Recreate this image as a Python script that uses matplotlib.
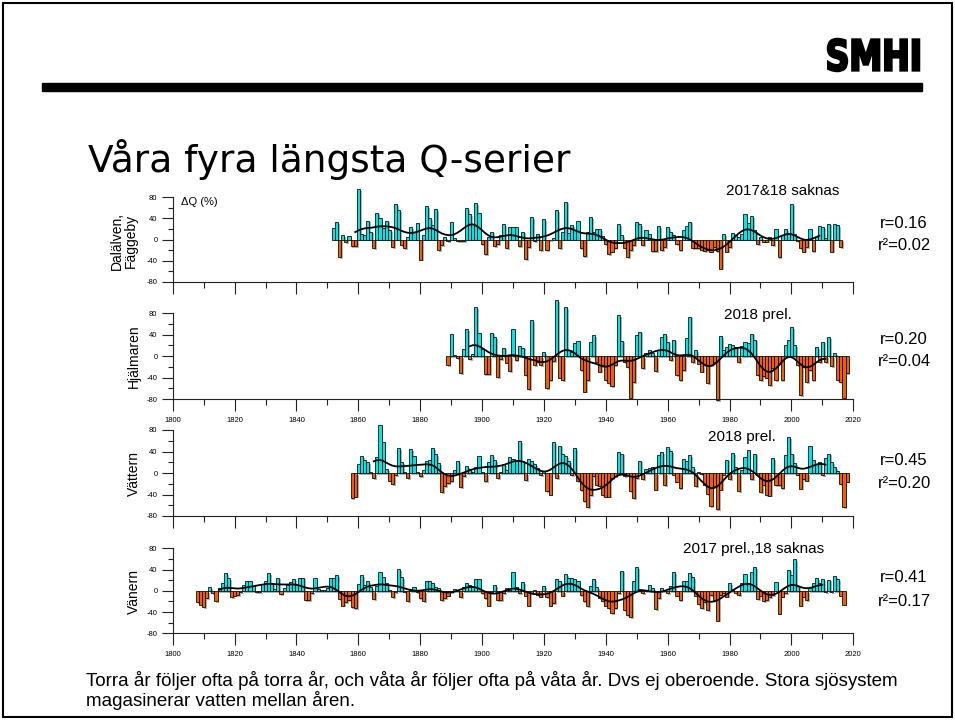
import numpy as np
import matplotlib
matplotlib.use('Agg')
import matplotlib.pyplot as plt
from matplotlib import patheffects as pe
from matplotlib.textpath import TextPath
from matplotlib.patches import PathPatch, Rectangle
from matplotlib.font_manager import FontProperties
from matplotlib.transforms import Affine2D

# ---------------- data (ΔQ in %) ----------------
dal_start = 1852
dal_vals = [21, 33, -33, 8, -5, 7, -12, -12, 96, 11,
            8, 36, 15, -17, 51, 40, 21, 36, 18, -14,
            67, 55, -10, -16, 5, 23, 15, 32, -38, 8,
            63, 40, 27, 57, -20, -10, 4, -3, 34, 2,
            -3, -3, -3, 59, 48, 30, 69, 50, -8, -27,
            5, 15, -12, -8, 8, 29, -17, 24, 24, 23,
            -13, 15, -37, -14, 43, -3, 10, -20, 38, -20,
            -1, 3, 56, -16, 15, 72, 13, 27, 18, 36,
            -16, -32, 15, 42, 15,
            19, 19, 6, -8, -28, -23, -17, 29, 8, -17,
            -33, -20, -11, 34, 29, -11, 18, 10, -22, -22,
            25, -20, -14, 24, 15, 8, -8, -20, 18, 25,
            34, -17, -17, -16, -20, -22, -20, -23, -14, -22,
            -55, 10, -23, -14, 13, 8, 5, 10, 48, 32,
            44, 18, -9, 4, -4, -4, 5, -11, 20, -33,
            8, 20, 10, 67, 11, -3, -17, -23, -14, 19,
            -22, 5, 25, 23, 3, 30, -23, 30, 27, -14]

hja_start = 1889
hja_vals = [-17, 42, 2, -4, -32, 14, 50, -6, 4, 92,
            44, 14, -34, -34, 44, 35, -39, -6, 16, -12,
            -28, 50, -8, 19, 16, -36, -61, 68, -16, -11,
            -16, 7, -59, -44, -9, 105, -40, -44, 92, 11,
            8, 24, 28, -26, -66, -45, 27, 39, -11, -29,
            -17, -45, -51, -56, -17, 77, 29, -11, -20, -79,
            -48, 39, 46, -23, 5, 11,
            5, -28, 12, 36, 41, 27, -8, 31, -36, -44,
            -26, 33, 74, -11, 11, -14, -29, -17, -50, -17,
            -11, -82, 37, 12, 17, 22, 21, 17, -11, 19,
            27, 24, 42, 31, -36, -45, -37, -40, -54, -23,
            -44, -14, -44, 21, 31, 54, 21, -17, -73, -20,
            -48, -26, -44, 17, -11, 27, -11, 36, -19, 6,
            -45, -48, -79, -31]

vat_start = 1858
vat_vals = [-47, -44, 17, 31, 24, 20, 1, -9, 29, 90,
            57, 7, -14, -20, -4, 47, 21, 1, -10, 44,
            31, 2, -6, 5, 22, 24, 46, 35, 19, -36,
            -24, -19, -15, 5, 22, -26, -6, 13, 7, 2,
            11, 31, 2, -15, 20, 34, 24, -10, 1, 16,
            5, 30, 26, 22, 60, 22, -13, 26, 22, 17,
            10, -4, 4, -34, -40, 57, -10, 51, 36, 31,
            22, -4, 46, -15, -32, -52, -63, -41, -6, -22,
            -25, -41, -44, -44, -9, -6, 39, 36, -6, -3,
            -34, -47, -9, 23, -11, 8, 9, 11, -31, 34,
            39, -22, 48, 41, -3, -16, -28, 26, 22, 33,
            11, -25, 1, -2, -22, -39, -61, -25, -67, -31,
            -3, 25, -12, 37, 12, -33, 6, 29, 42, -12,
            36, -3, -36, -22, -41, -42, 27, -22, -22, -28,
            34, 67, 36, 19, -3, -29, -12, -14, 50, 25,
            17, 21, -4, 28, 36, 21, 11, 4, -21, -64,
            -16]

van_start = 1808
van_vals = [-22, -26, -31, -14, 7, -4, -20, 5, 14, 33,
            24, -12, -9, -8, -3, 11, 18, 18, 9, -3,
            -2, 13, 19, 33, 14, 3, 25, -6, 5, 11,
            16, 22, 11, 25, 25, -17, -18, -4, 24, 3,
            2, 2, 5, 24, 24, 30, -15, -28, -22, -17,
            -31, -33, 13, 30, 11, 18, 7, -15, 9, 35,
            26, 14, 2, -12, -3, 41,
            26, -3, -20, 3, 8, -3, -14, -19, 19, 18,
            14, 7, 5, -18, -14, -9, -3, 3, 2, -12,
            7, 14, 11, 8, 23, 23, -4, -14, -28, -3,
            11, -17, -17, -4, 5, 2, 35, 8, -4, 16,
            -9, -28, -4, 2, -8, -11, 9, -12, -28, -23,
            22, 19, -9, 31, 25, 25, 22, 19, -8, -20,
            -29, 9, 22, 7, -14, -20, -28, -33, -42, -33,
            -4, 38, -37, -45,
            -50, 19, 44, 3, -4, 2, 11, 5, -35, -14,
            5, 2, -4, 9, 35, -9, -17, 18, 19, 33,
            26, -9, -25, -33, -22, -36, -8, -17, -56, -8,
            -4, -11, 14, 2, -4, -8, 14, 31, 14, 36,
            44, -16, -9, -20, -17, -12, -8, 16, -43, -11,
            -4, 40, 30, 60, 9, -28, -11, -17, 5, 14,
            24, 14, 22, -3, 21, -3, 27, 22, -9, -26]

panel_names = ['Dalälven,\nFäggeby', 'Hjälmaren', 'Vättern', 'Vänern']
panel_notes = ['2017&18 saknas', '2018 prel.', '2018 prel.', '2017 prel.,18 saknas']
r_labels = ['r=0.16', 'r=0.20', 'r=0.45', 'r=0.41']
r2_labels = ['r²=0.02', 'r²=0.04', 'r²=0.20', 'r²=0.17']
series = [(dal_start, dal_vals), (hja_start, hja_vals),
          (vat_start, vat_vals), (van_start, van_vals)]

x_ticks = list(range(1800, 2021, 20))
y_ticks = [-80, -40, 0, 40, 80]

# ---------------- figure ----------------
W, H = 955, 720
plt.rcParams['font.family'] = ['Liberation Sans', 'DejaVu Sans']
plt.rcParams['axes.unicode_minus'] = False
fig = plt.figure(figsize=(W / 100, H / 100), dpi=100)


def fx(x):
    return x / W


def fy(y):
    return 1 - y / H


CYAN = '#00E6E6'
ORANGE = '#F06000'

# panel geometry in pixels: (top(80), bottom(-80))
geom = [(197.3, 281.7), (313.3, 399.0), (430.0, 516.0), (548.3, 633.3)]
xl, xr = 172.7, 853.3
label_y = [241, 356, 473, 591]
label_x = [124, 134, 134, 134]
note_pos = [(783, 191), (758, 315), (742, 437), (754, 549)]
r_y = [(223, 246), (339, 362), (461, 484), (578, 601)]

kernel_half = 7
kx = np.arange(-kernel_half, kernel_half + 1)
kern = np.exp(-0.5 * (kx / 3.0) ** 2)
kern /= kern.sum()

for i, (start, vals) in enumerate(series):
    top, bot = geom[i]
    ax = fig.add_axes([fx(xl), fy(bot), (xr - xl) / W, (bot - top) / H])
    vals = np.array(vals, dtype=float)
    years = np.arange(start, start + len(vals))
    cols = [CYAN if v >= 0 else ORANGE for v in vals]
    ax.bar(years, vals, width=1.0, color=cols, edgecolor='black',
           linewidth=0.55, clip_on=False, zorder=2,
           path_effects=[pe.SimplePatchShadow(offset=(1.3, -1.3),
                                              shadow_rgbFace='0.45', alpha=0.55),
                         pe.Normal()])
    sm = np.convolve(vals, kern, mode='valid')
    ax.plot(years[kernel_half:-kernel_half], sm, color='black', lw=1.3,
            zorder=3, clip_on=False)
    ax.set_xlim(1800, 2020)
    ax.set_ylim(-80, 80)
    for s in ['top', 'right']:
        ax.spines[s].set_visible(False)
    for s in ['left', 'bottom']:
        ax.spines[s].set_linewidth(0.8)
        ax.spines[s].set_color('#222222')
    ax.set_xticks(x_ticks)
    ax.set_xticks(list(range(1810, 2020, 20)), minor=True)
    ax.set_yticks(y_ticks)
    ax.set_yticks([-60, -20, 20, 60], minor=True)
    ax.tick_params(axis='x', which='major', direction='out', length=8.5,
                   width=0.8, labelsize=5.5, pad=4.5, color='#222222')
    ax.tick_params(axis='x', which='minor', direction='out', length=4.2,
                   width=0.8, color='#222222')
    ax.tick_params(axis='y', which='major', direction='out', length=8,
                   width=0.8, labelsize=5.5, pad=3, color='#222222')
    ax.tick_params(axis='y', which='minor', direction='out', length=3.5,
                   width=0.8, color='#222222')
    if i in (0, 2):
        ax.tick_params(axis='x', labelbottom=False)
    ax.patch.set_alpha(0)

    fig.text(fx(label_x[i]), fy(label_y[i]), panel_names[i], rotation=90,
             ha='center', va='center', fontsize=10, multialignment='center',
             linespacing=0.95)
    fig.text(fx(note_pos[i][0]), fy(note_pos[i][1]), panel_notes[i],
             ha='center', va='center', fontsize=11)
    fig.text(fx(880), fy(r_y[i][0]), r_labels[i], ha='left', va='center',
             fontsize=12)
    fig.text(fx(878), fy(r_y[i][1]), r2_labels[i], ha='left', va='center',
             fontsize=12)

fig.text(fx(181), fy(202), 'ΔQ (%)', ha='left', va='center', fontsize=8)

# title
fig.text(fx(88), fy(172), 'Våra fyra längsta Q-serier', family='DejaVu Sans',
         fontsize=27, ha='left', va='baseline')

# bottom text
fig.text(fx(86), fy(680),
         'Torra år följer ofta på torra år, och våta år följer ofta på våta år. '
         'Dvs ej oberoende. Stora sjösystem', ha='left', va='center', fontsize=13.5)
fig.text(fx(86), fy(700), 'magasinerar vatten mellan åren.', ha='left',
         va='center', fontsize=13.5)

# header bar
fig.patches.append(Rectangle((fx(42), fy(91)), 880 / W, 8 / H,
                             transform=fig.transFigure, color='black', zorder=5))
# slide border
fig.patches.append(Rectangle((fx(3), fy(717)), 949 / W, 714 / H,
                             transform=fig.transFigure, fill=False,
                             edgecolor='black', lw=1.5, zorder=5))

# SMHI logo
tp = TextPath((0, 0), 'SMHI', size=1,
              prop=FontProperties(family='DejaVu Sans', weight='bold'))
ext = tp.get_extents()
tr = (Affine2D().translate(-ext.x0, -ext.y0)
      .scale(91 / ext.width / W, 32 / ext.height / H)
      .translate(fx(828), fy(71)))
logo = tp.transformed(tr)
fig.patches.append(PathPatch(logo, transform=fig.transFigure, facecolor='black',
                             edgecolor='black', lw=1.8, zorder=5))

fig.savefig('out.png', dpi=100)
